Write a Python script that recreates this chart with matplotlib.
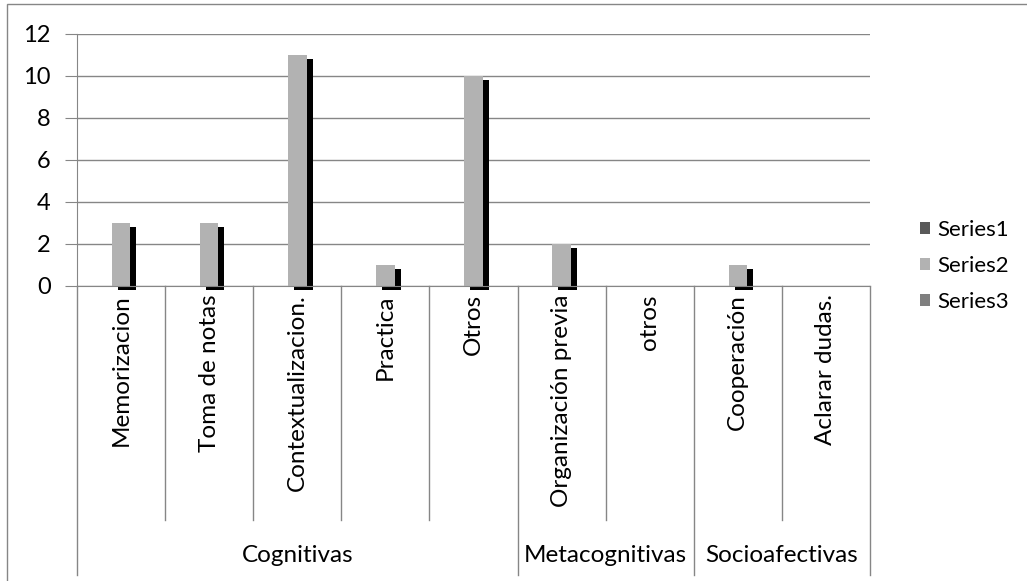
import matplotlib.pyplot as plt
import matplotlib.patheffects as pe
from matplotlib.patches import Rectangle, Patch
from matplotlib.lines import Line2D
import numpy as np

plt.rcParams['font.family'] = ['Lato', 'DejaVu Sans']

# strategies per group
categories = ["Memorizacion", "Toma de notas", "Contextualizacion.", "Practica", "Otros",
              "Organización previa", "otros", "Cooperación", "Aclarar dudas."]
groups = ["Cognitivas", "Metacognitivas", "Socioafectivas"]
group_sizes = [5, 2, 2]
series1 = [0, 0, 0, 0, 0, 0, 0, 0, 0]
series2 = [3, 3, 11, 1, 10, 2, 0, 1, 0]
series3 = [0, 0, 0, 0, 0, 0, 0, 0, 0]
series_names = ["Series1", "Series2", "Series3"]
colors = ["#595959", "#b2b2b2", "#7f7f7f"]

FS = 17.5
W, H = 1027, 581
fig = plt.figure(figsize=(W / 100, H / 100), dpi=100)
ax = fig.add_axes([77 / W, (H - 286) / H, (870 - 77) / W, (286 - 34) / H])

x = np.arange(len(categories))
bw = 0.21
shadow = [pe.SimplePatchShadow(offset=(4.3, -2.9), shadow_rgbFace='black', alpha=1.0), pe.Normal()]
for k, vals in enumerate([series1, series2, series3]):
    bars = ax.bar(x + (k - 1) * bw, vals, bw, color=colors[k], zorder=3)
    for b in bars:
        if b.get_height() > 0:
            b.set_path_effects(shadow)
            b.set_clip_on(False)

gridc = "#868686"
ax.set_xlim(-0.5, len(categories) - 0.5)
ax.set_ylim(0, 12)
ax.set_yticks(range(0, 13, 2))
ax.tick_params(axis='y', labelsize=FS - 0.5, length=9, color=gridc, pad=10)
ax.grid(axis='y', color=gridc, linewidth=1, zorder=0)
for s in ['top', 'right']:
    ax.spines[s].set_visible(False)
for s in ['left', 'bottom']:
    ax.spines[s].set_color(gridc)
    ax.spines[s].set_zorder(4)

ax.set_xticks(x)
ax.set_xticklabels(categories, rotation=90, fontsize=FS)
ax.tick_params(axis='x', length=0, pad=6)

# category and group dividers under the axis
yinner = -(520 - 286) / 252
youter = -(575 - 286) / 252
tr = ax.get_xaxis_transform()
bounds = np.cumsum([0] + group_sizes) - 0.5
for i in range(len(categories) + 1):
    xe = i - 0.5
    ybot = youter if xe in bounds else yinner
    ax.add_line(Line2D([xe, xe], [0, ybot], transform=tr, color=gridc, lw=1, clip_on=False))
for g, lo, hi in zip(groups, bounds[:-1], bounds[1:]):
    ax.text((lo + hi) / 2, -(556 - 286) / 252, g, transform=tr, ha='center', va='center', fontsize=FS)

handles = [Patch(facecolor=c, label=n) for c, n in zip(colors, series_names)]
ax.legend(handles=handles, loc='center left', bbox_to_anchor=(900 / W, 1 - 266 / H),
          bbox_transform=fig.transFigure, frameon=False, fontsize=16,
          handlelength=0.45, handleheight=0.45, handletextpad=0.35, labelspacing=0.72)

# chart border
fig.add_artist(Rectangle((7 / W, -0.1), 1.1, 1 - 4 / H + 0.1, transform=fig.transFigure,
                         fill=False, edgecolor=gridc, lw=1))

fig.savefig("out.png", dpi=100)
